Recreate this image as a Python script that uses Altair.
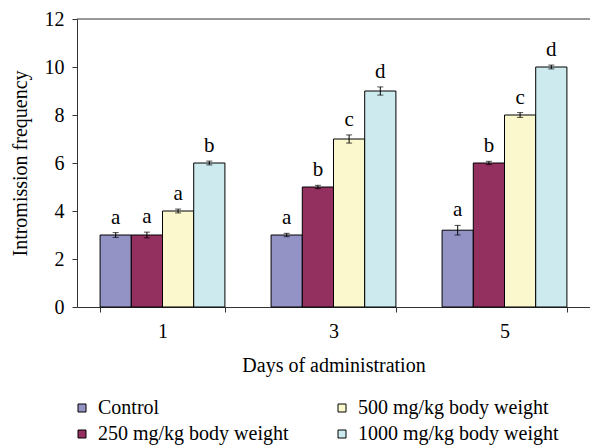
import altair as alt
import pandas as pd

days = ["1", "3", "5"]
groups = ["Control", "250 mg/kg body weight", "500 mg/kg body weight", "1000 mg/kg body weight"]
colors = ["#9393c6", "#93305f", "#fbf8cd", "#cdebef"]

control_vals = [3.0, 3.0, 3.2]
d250_vals = [3.0, 5.0, 6.0]
d500_vals = [4.0, 7.0, 8.0]
d1000_vals = [6.0, 9.0, 10.0]

control_err = [0.10, 0.07, 0.20]
d250_err = [0.12, 0.07, 0.07]
d500_err = [0.08, 0.17, 0.10]
d1000_err = [0.08, 0.17, 0.08]

control_let = ["a", "a", "a"]
d250_let = ["a", "b", "b"]
d500_let = ["a", "c", "c"]
d1000_let = ["b", "d", "d"]

vals = [control_vals, d250_vals, d500_vals, d1000_vals]
errs = [control_err, d250_err, d500_err, d1000_err]
lets = [control_let, d250_let, d500_let, d1000_let]

rows = []
for gi, g in enumerate(groups):
    for di, d in enumerate(days):
        v = vals[gi][di]
        e = errs[gi][di]
        rows.append({"Day": d, "Group": g, "Value": v, "lo": v - e, "hi": v + e,
                     "Letter": lets[gi][di]})
df = pd.DataFrame(rows)

FONT = "Liberation Serif"
W, H = 513, 288

x_enc = alt.X("Day:N", sort=days,
              scale=alt.Scale(paddingInner=0.27, paddingOuter=0.135),
              axis=alt.Axis(title="Days of administration", labelAngle=0, tickBand="extent",
                            tickSize=5, labelPadding=9, titlePadding=14,
                            domainColor="#333333", tickColor="#333333"))
xoff = alt.XOffset("Group:N", sort=groups, scale=alt.Scale(paddingInner=0, paddingOuter=0))
y_scale = alt.Scale(domain=[0, 12])

base = alt.Chart(df)

bars = base.mark_bar(stroke="black", strokeWidth=1).encode(
    x=x_enc,
    xOffset=xoff,
    y=alt.Y("Value:Q", scale=y_scale,
            axis=alt.Axis(title="Intromission frequency", values=[0, 2, 4, 6, 8, 10, 12],
                          grid=False, tickSize=5, labelPadding=8, titlePadding=14,
                          domainColor="#333333", tickColor="#333333")),
    color=alt.Color("Group:N",
                    scale=alt.Scale(domain=groups, range=colors),
                    legend=alt.Legend(title=None, orient="none", legendX=-5, legendY=379,
                                      columns=2, symbolType="square", symbolSize=64,
                                      symbolStrokeColor="black", symbolStrokeWidth=1,
                                      labelFont=FONT, labelFontSize=20, labelColor="black",
                                      labelOffset=6, columnPadding=43, rowPadding=6,
                                      labelLimit=400)),
)

err_rule = base.mark_rule(color="black", strokeWidth=1).encode(
    x=alt.X("Day:N", sort=days), xOffset=xoff, y="lo:Q", y2="hi:Q")
err_lo = base.mark_tick(color="black", size=6, thickness=1, orient="horizontal").encode(
    x=alt.X("Day:N", sort=days), xOffset=xoff, y="lo:Q")
err_hi = base.mark_tick(color="black", size=6, thickness=1, orient="horizontal").encode(
    x=alt.X("Day:N", sort=days), xOffset=xoff, y="hi:Q")

letters = base.mark_text(font=FONT, fontSize=21, color="black", baseline="alphabetic",
                         dy=-9).encode(
    x=alt.X("Day:N", sort=days), xOffset=xoff, y="hi:Q", text="Letter:N")

top_rule = alt.Chart(pd.DataFrame({"a": [0]})).mark_rule(color="#333333").encode(
    x=alt.value(0), x2=alt.value(W), y=alt.value(0))

chart = alt.layer(bars, err_rule, err_lo, err_hi, letters, top_rule).properties(
    width=W, height=H,
    autosize=alt.AutoSizeParams(type="none"),
    padding={"left": 69, "top": 11, "right": 0, "bottom": 140},
).configure_view(stroke=None).configure_axis(
    labelFont=FONT, titleFont=FONT, labelFontSize=20, titleFontSize=20,
    labelColor="black", titleColor="black", titleFontWeight="normal",
)

chart.save("out.html", embed_options={"renderer": "svg", "actions": False})
